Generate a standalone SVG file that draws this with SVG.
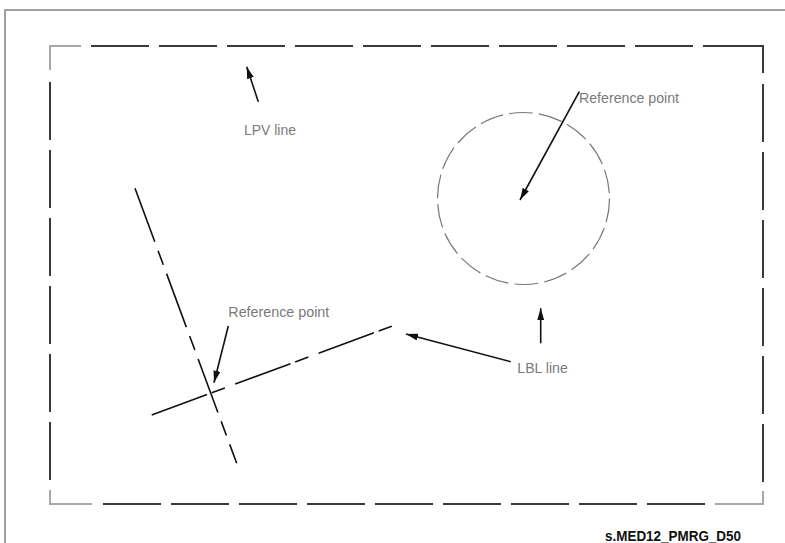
<svg xmlns="http://www.w3.org/2000/svg" width="785" height="543" viewBox="0 0 785 543">
<defs>
<style>
.frame{fill:none;stroke:#a0a0a0;stroke-width:2}
.bd{fill:none;stroke:#3a3a3a;stroke-width:2}
.bg{fill:none;stroke:#a8a8a8;stroke-width:2}
.ln{fill:none;stroke:#111;stroke-width:1.6}
.circ{fill:none;stroke:#777;stroke-width:1.2;stroke-dasharray:24 6}
.arr{fill:none;stroke:#111;stroke-width:1.6;marker-end:url(#ah)}
.lbl{font-family:"Liberation Sans",Arial,sans-serif;font-size:15px;fill:#7a7a7a}
.code{font-family:"Liberation Sans",Arial,sans-serif;font-size:15.5px;font-weight:bold;fill:#111}
</style>
<marker id="ah" markerUnits="userSpaceOnUse" markerWidth="13" markerHeight="7" refX="12" refY="3.5" orient="auto">
<path d="M0,0 L12,3.5 L0,7 z" fill="#111"/>
</marker>
</defs>
<rect width="785" height="543" fill="#fff"/>
<path class="frame" d="M5,543 V10 H785"/>
<g id="border">
<path class="bg" d="M50,70 V46 H81"/>
<line class="bd" x1="91" y1="46" x2="693" y2="46" stroke-dasharray="58 10"/>
<path class="bd" d="M703,46 H763 V73"/>
<line class="bd" x1="50" y1="82" x2="50" y2="481" stroke-dasharray="58 10"/>
<line class="bd" x1="763" y1="84" x2="763" y2="483" stroke-dasharray="58 10"/>
<path class="bg" d="M50,490 V504 H92"/>
<line class="bd" x1="103" y1="504" x2="705" y2="504" stroke-dasharray="58 10"/>
<path class="bg" d="M715,504 H763 V491"/>
</g>
<g id="circle-node">
<circle class="circ" cx="523.5" cy="198.5" r="86"/>
</g>
<g id="line1">
<line class="ln" x1="135" y1="188.3" x2="236.7" y2="463.3" stroke-dasharray="57 9.5 15 9.5"/>
</g>
<g id="line2">
<line class="ln" x1="151.7" y1="415" x2="399" y2="323.5" stroke-dasharray="59 5 14 11"/>
</g>
<g id="connectors">
<line class="arr" x1="258.3" y1="101.7" x2="246.7" y2="66.7"/>
<line class="arr" x1="579.3" y1="91.7" x2="520" y2="200"/>
<line class="arr" x1="228.3" y1="326" x2="214" y2="382.7"/>
<line class="arr" x1="510.7" y1="361.7" x2="406" y2="334"/>
<line class="arr" x1="540.7" y1="343.3" x2="540.7" y2="308.3"/>
</g>
<g id="labels">
<text class="lbl" x="244" y="134.5" textLength="52" lengthAdjust="spacingAndGlyphs">LPV line</text>
<text class="lbl" x="579" y="102.5" textLength="100" lengthAdjust="spacingAndGlyphs">Reference point</text>
<text class="lbl" x="228.3" y="316.5" textLength="101" lengthAdjust="spacingAndGlyphs">Reference point</text>
<text class="lbl" x="517.3" y="372.5" textLength="50.5" lengthAdjust="spacingAndGlyphs">LBL line</text>
<text class="code" x="605" y="540.5" textLength="136" lengthAdjust="spacingAndGlyphs">s.MED12_PMRG_D50</text>
</g>
</svg>
